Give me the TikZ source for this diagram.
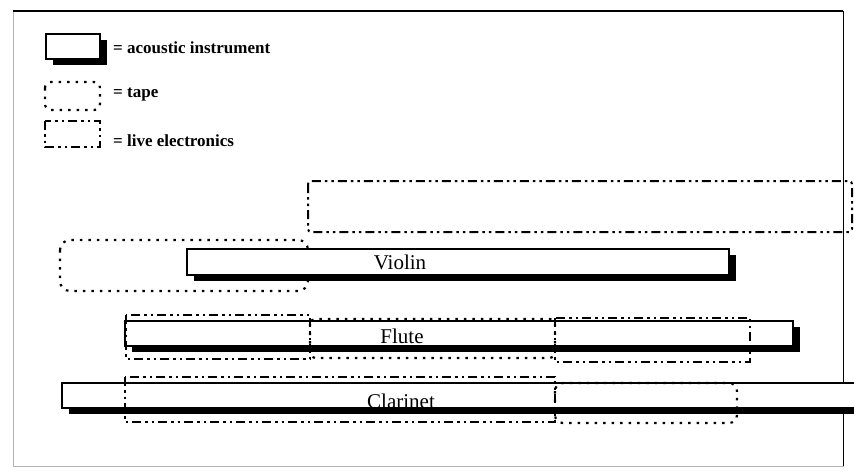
\documentclass[tikz,border=0pt]{standalone}
\usepackage{fontspec}
\setmainfont{Liberation Serif}
\begin{document}
\begin{tikzpicture}[x=1pt,y=-1pt,
  acoustic/.style={draw=black, fill=white, line width=1.4pt},
  shade/.style={fill=black},
  tape/.style={draw=black, line width=2.2pt, dash pattern=on 2.5pt off 6pt, rounded corners=#1},
  tape/.default=8pt,
  electronics/.style={draw=black, line width=2pt,
    dash pattern=on 9pt off 4pt on 2.5pt off 4pt on 2.5pt off 4pt},
  legendtext/.style={font=\fontsize{17}{20}\selectfont\bfseries, anchor=west, inner sep=0pt},
  instr/.style={font=\fontsize{21}{24}\selectfont, inner sep=0pt}
]
\useasboundingbox (0,0) rectangle (854,475);
\clip (0,0) rectangle (854,475);

% frame
\draw[gray!60, line width=0.8pt] (13,11) rectangle (843,466);
\draw[line width=1.6pt] (13,11) -- (843,11);
\draw[line width=1pt] (843,11) -- (843,466);

% acoustic box with drop shadow: corners (x1,y1) (x2,y2)
\newcommand\acousticbox[4]{%
  \fill[shade, shift={(7,5.5)}] (#1,#2) rectangle (#3,#4);
  \draw[acoustic] (#1,#2) rectangle (#3,#4);}

% legend
\acousticbox{46}{34}{100}{59}
\draw[tape=6pt] (45,82) rectangle (100,110);
\draw[electronics] (45,121) rectangle (100,147);
\node[legendtext] (lgA) at (113,48) {= acoustic instrument};
\node[legendtext] (lgT) at (113,95) {= tape};
\node[legendtext] (lgE) at (113,141) {= live electronics};

% violin
\draw[electronics, rounded corners=3pt] (308,181) rectangle (852,232);
\draw[tape=10pt] (60,240) rectangle (308,291);
\acousticbox{187}{249}{729}{275}
\node[instr] (violin) at (400,262) {Violin};

% flute
\acousticbox{125}{321}{793}{346}
\draw[electronics] (126,315) rectangle (310,359);
\draw[tape=5pt] (310,319) rectangle (555,358);
\draw[electronics] (555,318) rectangle (750,362);
\node[instr] (flute) at (402,336) {Flute};

% clarinet
\acousticbox{62}{383}{870}{408}
\draw[electronics] (125,377) rectangle (555,422);
\draw[tape=8pt] (555,383) rectangle (737,423);
\node[instr] (clarinet) at (401,401) {Clarinet};
\end{tikzpicture}
\end{document}
